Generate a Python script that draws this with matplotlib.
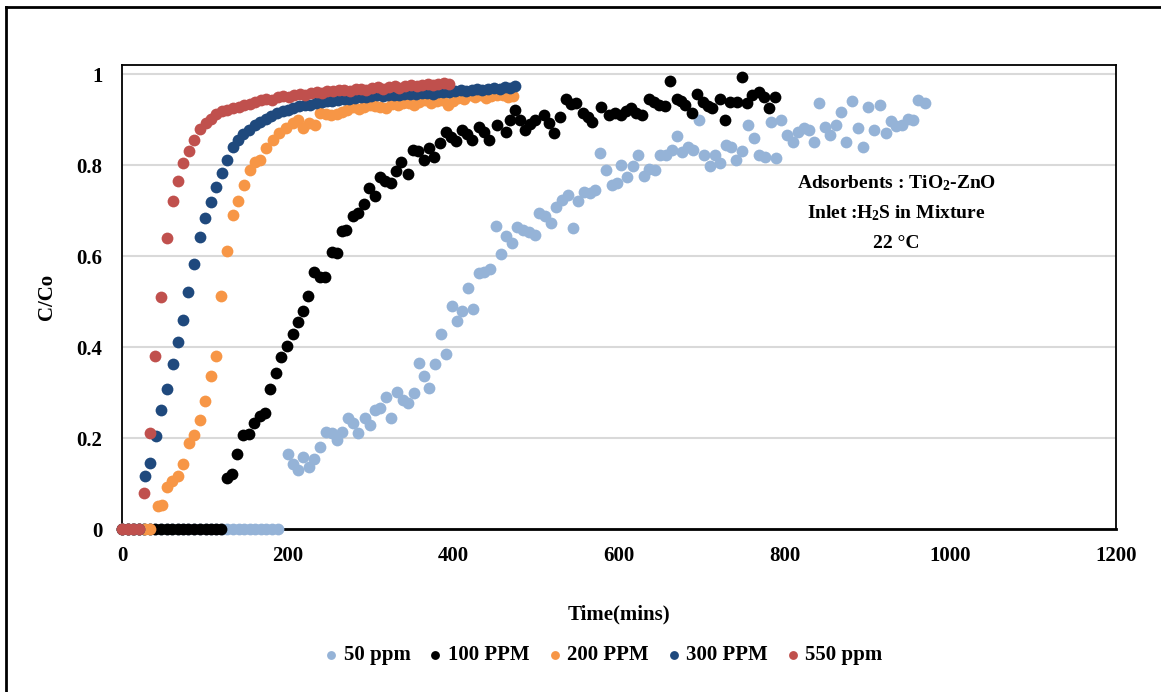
import matplotlib
matplotlib.use('Agg')
import matplotlib.pyplot as plt
from matplotlib.lines import Line2D

plt.rcParams['font.family'] = ['Liberation Serif', 'DejaVu Serif']
plt.rcParams['font.weight'] = 'bold'
plt.rcParams['mathtext.fontset'] = 'custom'
plt.rcParams['mathtext.rm'] = 'Liberation Serif:bold'
plt.rcParams['mathtext.bf'] = 'Liberation Serif:bold'
plt.rcParams['mathtext.default'] = 'rm'

# 550 ppm
t550 = [0, 7, 13, 20, 27, 34, 40, 47, 54, 61, 67, 74, 81, 87, 94, 101, 107, 114, 121, 127,
        134, 141, 147, 154, 161, 168, 174, 181, 188, 194, 201, 208, 215, 221, 228, 235, 241, 248,
        255, 262, 268, 275, 282, 288, 295, 302, 309, 315, 322, 329, 335, 342, 349, 356, 362, 369,
        376, 382, 389, 395]
c550 = [0, 0, 0, 0, 0.08, 0.21, 0.38, 0.51, 0.64, 0.72, 0.765, 0.805, 0.83, 0.855, 0.88, 0.893,
        0.902, 0.912, 0.918, 0.921, 0.925, 0.927, 0.932, 0.935, 0.938, 0.942, 0.946, 0.944, 0.949,
        0.952, 0.950, 0.955, 0.957, 0.955, 0.959, 0.961, 0.958, 0.963, 0.962, 0.965, 0.966, 0.963,
        0.967, 0.968, 0.966, 0.969, 0.971, 0.968, 0.972, 0.973, 0.970, 0.974, 0.976, 0.973, 0.977,
        0.978, 0.975, 0.979, 0.980, 0.978]

# 300 PPM
t300 = [0, 7, 14, 21, 28, 34, 41, 47, 54, 61, 67, 74, 80, 87, 94, 100, 107, 114, 121, 127, 134,
        140, 146, 153, 160, 167, 174, 180, 187, 194, 200, 207, 214, 221, 227, 234, 241, 247, 254,
        261, 268, 274, 281, 288, 294, 301, 308, 315, 321, 328, 335, 341, 348, 355, 362, 368, 375,
        382, 388, 395, 402, 409, 415, 422, 429, 435, 442, 449, 456, 462, 469, 475]
c300 = [0, 0, 0, 0, 0.116, 0.146, 0.204, 0.261, 0.308, 0.362, 0.411, 0.459, 0.521, 0.582, 0.641,
        0.683, 0.718, 0.751, 0.783, 0.812, 0.839, 0.856, 0.868, 0.878, 0.887, 0.895, 0.902, 0.908,
        0.914, 0.918, 0.922, 0.926, 0.929, 0.932, 0.931, 0.936, 0.938, 0.941, 0.940, 0.944, 0.946,
        0.945, 0.948, 0.950, 0.949, 0.951, 0.953, 0.952, 0.954, 0.955, 0.953, 0.956, 0.957, 0.956,
        0.958, 0.959, 0.957, 0.960, 0.961, 0.960, 0.962, 0.964, 0.963, 0.966, 0.967, 0.965, 0.968,
        0.970, 0.967, 0.972, 0.970, 0.973]

# 200 PPM
t200 = [0, 7, 14, 21, 28, 34, 44, 48, 54, 60, 67, 74, 81, 87, 94, 100, 107, 114, 120, 127, 134,
        140, 147, 154, 160, 167, 174, 182, 190, 198, 206, 213, 219, 226, 233, 239, 246, 252, 259,
        266, 272, 279, 286, 292, 299, 306, 312, 319, 326, 333, 339, 346, 353, 359, 366, 373, 380,
        386, 393, 399, 406, 413, 420, 426, 433, 440, 446, 453, 460, 466, 472]
c200 = [0, 0, 0, 0, 0, 0, 0.051, 0.053, 0.093, 0.106, 0.116, 0.143, 0.188, 0.207, 0.240, 0.282,
        0.336, 0.381, 0.512, 0.612, 0.690, 0.722, 0.757, 0.789, 0.807, 0.811, 0.837, 0.855, 0.870,
        0.881, 0.892, 0.899, 0.881, 0.892, 0.888, 0.914, 0.912, 0.910, 0.912, 0.916, 0.920, 0.928,
        0.924, 0.928, 0.932, 0.930, 0.928, 0.926, 0.934, 0.932, 0.936, 0.936, 0.933, 0.939, 0.943,
        0.937, 0.941, 0.943, 0.932, 0.940, 0.948, 0.945, 0.954, 0.950, 0.954, 0.948, 0.951, 0.954,
        0.955, 0.950, 0.952]

# 100 PPM
t100 = [0, 7, 13, 20, 27, 34, 40, 47, 54, 60, 67, 74, 80, 87, 94, 101, 107, 114, 120,
        127, 133, 139, 146, 153, 159, 166, 173, 179, 186, 192, 199, 206, 212, 218, 225, 232, 239,
        245, 253, 259, 265, 271, 279, 285, 292, 298, 305, 312, 318, 325, 331, 337, 345, 351, 357,
        364, 371, 377, 384, 391, 397, 403, 411, 417, 423, 431, 437, 443, 453, 463, 469, 475, 481,
        487, 493, 499, 509, 516, 521, 529, 536, 542, 548, 556, 562, 568, 578, 588, 595, 602, 608,
        614, 621, 628, 636, 642, 648, 655, 662, 670, 675, 680, 688, 694, 702, 708, 712, 722, 728,
        734, 742, 748, 754, 760, 769, 775, 781, 788]
c100 = [0, 0, 0, 0, 0, 0, 0, 0, 0, 0, 0, 0, 0, 0, 0, 0, 0, 0, 0,
        0.113, 0.122, 0.164, 0.207, 0.209, 0.232, 0.248, 0.254, 0.307, 0.344, 0.379, 0.403, 0.428,
        0.454, 0.479, 0.512, 0.566, 0.555, 0.553, 0.609, 0.606, 0.656, 0.657, 0.687, 0.694, 0.714,
        0.749, 0.732, 0.774, 0.765, 0.760, 0.787, 0.807, 0.780, 0.833, 0.831, 0.812, 0.837, 0.818,
        0.848, 0.873, 0.862, 0.852, 0.877, 0.868, 0.855, 0.884, 0.872, 0.855, 0.888, 0.873, 0.900,
        0.921, 0.900, 0.877, 0.890, 0.899, 0.910, 0.892, 0.870, 0.906, 0.946, 0.934, 0.936, 0.914,
        0.905, 0.895, 0.928, 0.910, 0.915, 0.910, 0.918, 0.925, 0.915, 0.910, 0.946, 0.938, 0.932,
        0.930, 0.984, 0.946, 0.940, 0.932, 0.914, 0.957, 0.939, 0.930, 0.925, 0.946, 0.900, 0.939,
        0.939, 0.994, 0.936, 0.954, 0.961, 0.950, 0.925, 0.949]

# 50 ppm
t50 = [0, 7, 13, 20, 27, 34, 40, 47, 54, 60, 67, 74, 80, 87, 94, 101, 107, 114, 121, 127, 134,
       141, 147, 154, 161, 168, 174, 181, 188,
       200, 206, 212, 219, 226, 232, 239, 246, 253, 259, 266, 273, 279, 285, 293, 299, 306, 312,
       319, 325, 332, 339, 345, 352, 358, 364, 371, 378, 385, 391, 398, 404, 411, 418, 424, 431,
       437, 444, 451, 457, 464, 471, 477, 484, 491, 498, 504, 511, 518, 524, 531, 538, 544, 551,
       558, 565, 571, 577, 584, 591, 597, 603, 610, 617, 623, 630, 636, 644, 650, 657, 664, 670,
       676, 683, 689, 696, 703, 710, 716, 722, 729, 735, 741, 749, 756, 763, 769, 776, 783, 789,
       796, 803, 810, 816, 823, 829, 836, 842, 849, 855, 862, 868, 874, 881, 889, 895, 901, 908,
       915, 922, 929, 935, 942, 949, 955, 961, 969]
c50 = [0, 0, 0, 0, 0, 0, 0, 0, 0, 0, 0, 0, 0, 0, 0, 0, 0, 0, 0, 0, 0, 0, 0, 0, 0, 0, 0, 0, 0,
       0.166, 0.144, 0.130, 0.159, 0.137, 0.155, 0.181, 0.214, 0.210, 0.196, 0.214, 0.243, 0.232,
       0.210, 0.243, 0.229, 0.262, 0.265, 0.291, 0.243, 0.302, 0.284, 0.276, 0.298, 0.366, 0.336,
       0.311, 0.363, 0.428, 0.384, 0.490, 0.458, 0.480, 0.530, 0.484, 0.562, 0.566, 0.571, 0.667,
       0.604, 0.645, 0.628, 0.664, 0.657, 0.653, 0.646, 0.695, 0.687, 0.672, 0.708, 0.723, 0.734,
       0.662, 0.720, 0.741, 0.738, 0.745, 0.827, 0.790, 0.756, 0.760, 0.800, 0.773, 0.798, 0.822,
       0.776, 0.791, 0.789, 0.823, 0.823, 0.833, 0.864, 0.829, 0.840, 0.834, 0.900, 0.821, 0.798,
       0.823, 0.804, 0.844, 0.839, 0.811, 0.831, 0.888, 0.859, 0.822, 0.818, 0.895, 0.815, 0.900,
       0.866, 0.851, 0.873, 0.881, 0.877, 0.851, 0.937, 0.884, 0.866, 0.888, 0.916, 0.851, 0.941,
       0.882, 0.840, 0.927, 0.877, 0.932, 0.871, 0.897, 0.886, 0.888, 0.902, 0.900, 0.943, 0.937]

series = [
    (t50, c50, '50 ppm', '#95B3D7'),
    (t100, c100, '100 PPM', '#000000'),
    (t200, c200, '200 PPM', '#F79646'),
    (t300, c300, '300 PPM', '#1F497D'),
    (t550, c550, '550 ppm', '#C0504D'),
]

xticks = [0, 200, 400, 600, 800, 1000, 1200]
yticks = [0, 0.2, 0.4, 0.6, 0.8, 1.0]
ytick_labels = ['0', '0.2', '0.4', '0.6', '0.8', '1']

fig = plt.figure(figsize=(11.61, 6.92), dpi=100)
ax = fig.add_axes([0.1051, 0.2355, 0.8561, 0.6705])

for i, (t, c, lab, col) in enumerate(series):
    ax.scatter(t, c, s=72, color=col, label=lab, linewidths=0, clip_on=False, zorder=3 + i)

ax.set_xlim(0, 1200)
ax.set_ylim(0, 1.0198)
ax.set_xticks(xticks)
ax.set_xticklabels([str(v) for v in xticks])
ax.set_yticks(yticks)
ax.set_yticklabels(ytick_labels)
ax.tick_params(length=0, labelsize=15)
ax.tick_params(axis='y', pad=14)
ax.tick_params(axis='x', pad=12)
ax.grid(axis='y', color='#D9D9D9', linewidth=1.5)
ax.set_axisbelow(True)
for side in ['left', 'top', 'right']:
    ax.spines[side].set_linewidth(1.3)
ax.spines['bottom'].set_linewidth(2)

ax.set_xlabel('Time(mins)', fontsize=15, fontweight='bold', labelpad=28)
ax.set_ylabel('C/Co', fontsize=15, fontweight='bold', labelpad=14)

ax.text(0.779, 0.746, 'Adsorbents : TiO$_2$-ZnO', transform=ax.transAxes,
        ha='center', va='center', fontsize=14, fontweight='bold')
ax.text(0.779, 0.681, 'Inlet :H$_2$S in Mixture', transform=ax.transAxes,
        ha='center', va='center', fontsize=14, fontweight='bold')
ax.text(0.779, 0.616, '22 °C', transform=ax.transAxes,
        ha='center', va='center', fontsize=14, fontweight='bold')

fig.legend(loc='center', bbox_to_anchor=(0.52, 0.0535), ncol=5, frameon=False,
           fontsize=15, handlelength=0.6, handletextpad=0.3, columnspacing=0.9,
           markerscale=0.75, scatterpoints=1)

# outer chart border (top and left visible)
fig.add_artist(Line2D([0.005, 1.0], [0.99, 0.99], color='black', linewidth=2, transform=fig.transFigure))
fig.add_artist(Line2D([0.005, 0.005], [0.0, 0.99], color='black', linewidth=2, transform=fig.transFigure))

fig.savefig('out.png', dpi=100)
